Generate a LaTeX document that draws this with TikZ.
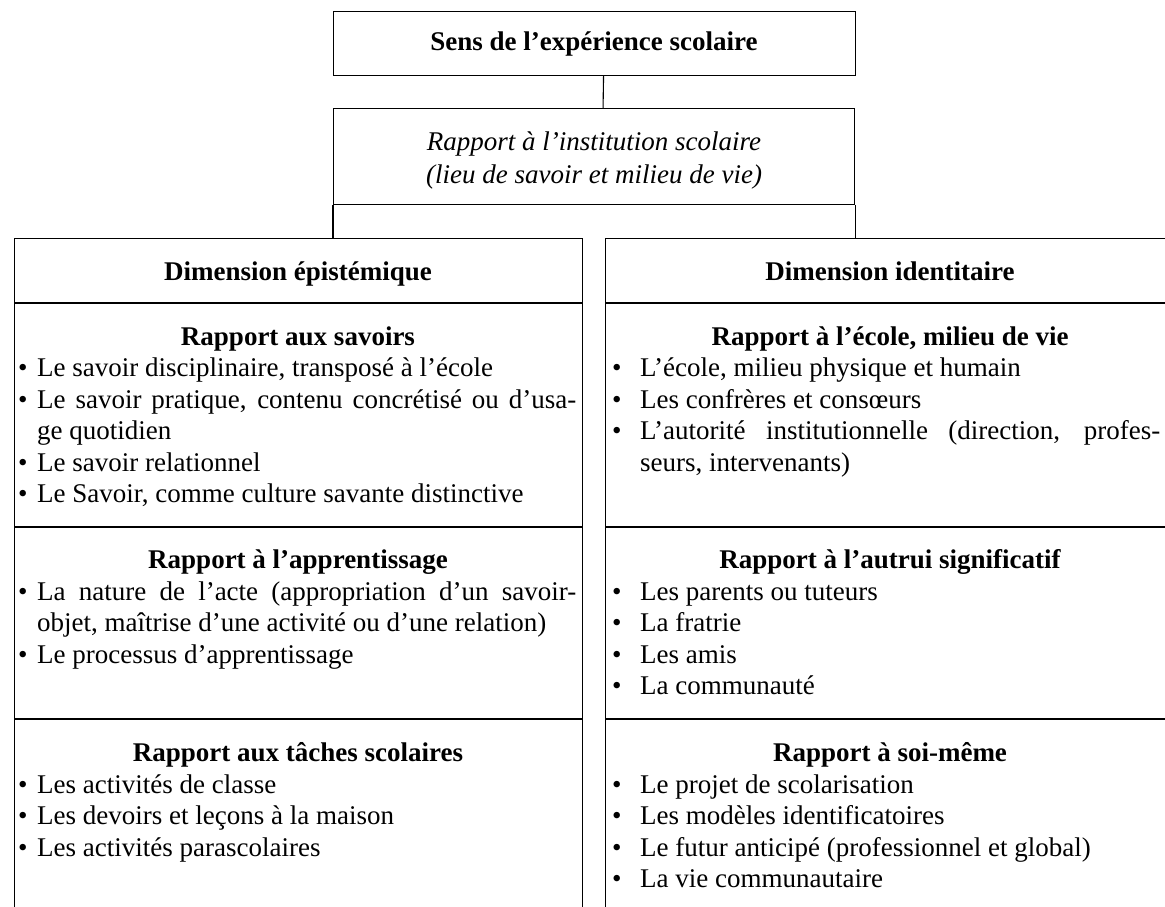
\documentclass[tikz,border=0pt]{standalone}
\usepackage{fontspec}
\setmainfont{Liberation Serif}
\usetikzlibrary{calc}
\newcommand\myitem[5]{\node[item] (#1d) at (#2,#4) {•}; \node[item] (#1) at (#3,#4) {#5};}
\begin{document}
\begin{tikzpicture}[x=1pt,y=1pt,
  font=\fontsize{27}{31.5}\selectfont,
  frame/.style={draw, line width=1.1pt, inner sep=0pt, anchor=north west, rectangle},
  rule/.style={line width=1.1pt},
  head/.style={font=\fontsize{27}{31.5}\selectfont\bfseries, anchor=base, inner sep=0pt},
  ital/.style={font=\fontsize{27}{31.5}\selectfont\itshape, anchor=base, inner sep=0pt},
  item/.style={anchor=base west, inner sep=0pt}]
\useasboundingbox (0,0) rectangle (1165,-907);
\clip (0,0) rectangle (1165,-907);
% boxes
\node[frame, minimum width=522, minimum height=64] (top) at (333,-11) {};
\node[frame, minimum width=521, minimum height=96] (inst) at (333,-108) {};
\node[frame, minimum width=568, minimum height=700] (left) at (14,-238) {};
\node[frame, minimum width=570, minimum height=700] (right) at (605,-238) {};
% connectors
\draw[rule] ([xshift=9pt]top.south) -- ([xshift=9pt]inst.north);
\draw[rule] (inst.south west) -- (inst.south west |- left.north);
\draw[rule] (inst.south east) -- (inst.south east |- right.north);
% separators
\coordinate (s1) at (0,-303);
\coordinate (s2) at (0,-527);
\coordinate (s3) at (0,-719);
\foreach \s in {s1,s2,s3}{
  \draw[rule] (left.west |- \s) -- (left.east |- \s);
  \draw[rule] (right.west |- \s) -- (right.east |- \s);
}
% top texts
\node[head] (ttop) at (594,-51) {Sens de l’expérience scolaire};
\node[ital] (tinst1) at (594,-150) {Rapport à l’institution scolaire};
\node[ital] (tinst2) at (594,-183) {(lieu de savoir et milieu de vie)};
% left column
\node[head] (hl) at (298,-280) {Dimension épistémique};
\node[head] (hl1) at (298,-345) {Rapport aux savoirs};
\myitem{la}{18}{37}{-376.5}{Le savoir disciplinaire, transposé à l’école}
\myitem{lb}{18}{37}{-408}{\makebox[539pt][s]{Le savoir pratique, contenu concrétisé ou d’usa-}}
\node[item] (lbb) at (37,-439.5) {ge quotidien};
\myitem{lc}{18}{37}{-471}{Le savoir relationnel}
\myitem{ld}{18}{37}{-502.5}{Le Savoir, comme culture savante distinctive}
\node[head] (hl2) at (298,-568) {Rapport à l’apprentissage};
\myitem{le}{18}{37}{-600}{\makebox[539pt][s]{La nature de l’acte (appropriation d’un savoir-}}
\node[item] (lee) at (37,-631.5) {objet, maîtrise d’une activité ou d’une relation)};
\myitem{lf}{18}{37}{-663}{Le processus d’apprentissage}
\node[head] (hl3) at (298,-761) {Rapport aux tâches scolaires};
\myitem{lg}{18}{37}{-793}{Les activités de classe}
\myitem{lh}{18}{37}{-824.5}{Les devoirs et leçons à la maison}
\myitem{li}{18}{37}{-856}{Les activités parascolaires}
% right column
\node[head] (hr) at (890,-280) {Dimension identitaire};
\node[head] (hr1) at (890,-345) {Rapport à l’école, milieu de vie};
\myitem{ra}{612}{640}{-376.5}{L’école, milieu physique et humain}
\myitem{rb}{612}{640}{-408}{Les confrères et consœurs}
\myitem{rc}{612}{640}{-439.5}{\makebox[520pt][s]{L’autorité institutionnelle (direction, profes-}}
\node[item] (rcc) at (640,-471) {seurs, intervenants)};
\node[head] (hr2) at (890,-568) {Rapport à l’autrui significatif};
\myitem{rd}{612}{640}{-600}{Les parents ou tuteurs}
\myitem{re}{612}{640}{-631.5}{La fratrie}
\myitem{rf}{612}{640}{-663}{Les amis}
\myitem{rg}{612}{640}{-694.5}{La communauté}
\node[head] (hr3) at (890,-761) {Rapport à soi-même};
\myitem{rh}{612}{640}{-793}{Le projet de scolarisation}
\myitem{ri}{612}{640}{-824.5}{Les modèles identificatoires}
\myitem{rj}{612}{640}{-856}{Le futur anticipé (professionnel et global)}
\myitem{rk}{612}{640}{-887.5}{La vie communautaire}
\end{tikzpicture}
\end{document}
